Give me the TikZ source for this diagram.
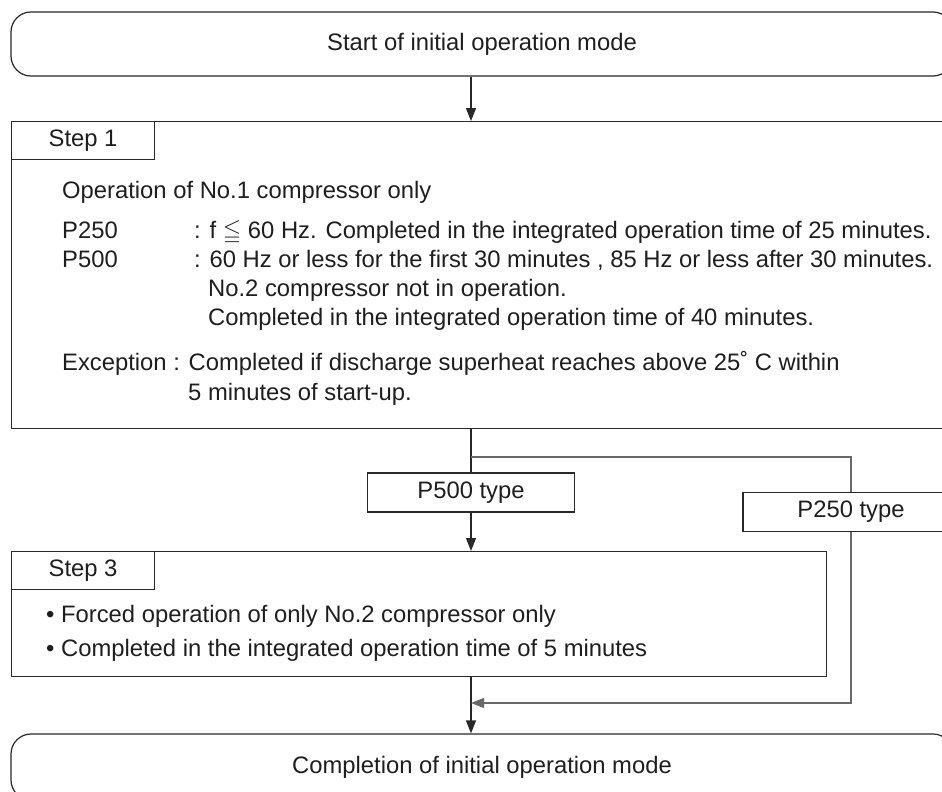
\documentclass[tikz,border=0pt]{standalone}
\usepackage{amssymb}
\usepackage{fontspec}
\setmainfont{Liberation Sans}
\usetikzlibrary{positioning, arrows.meta}
\definecolor{lineink}{RGB}{40,40,40}
\definecolor{branchgray}{RGB}{105,105,105}
\definecolor{textink}{RGB}{30,30,30}

\begin{document}
\begin{tikzpicture}[x=1pt, y=-1pt,
    every node/.style={font=\fontsize{23.8}{28}\selectfont, text=textink},
    term/.style={draw=lineink, line width=1.2pt, rounded corners=20pt,
                minimum width=942pt, minimum height=64pt, inner sep=0pt},
    stepbox/.style={draw=lineink, line width=1.2pt, anchor=north west, inner sep=0pt},
    tab/.style={draw=lineink, line width=1.2pt, anchor=north west,
                minimum width=143pt, minimum height=38pt, inner sep=0pt},
    typebox/.style={draw=lineink, line width=1.2pt, minimum height=39pt, inner sep=0pt},
    txt/.style={anchor=base west, inner sep=0pt},
    arr/.style={-{Triangle[length=13pt, width=10pt]}, line width=1.3pt, color=lineink},
    lin/.style={line width=1.3pt, color=lineink},
    branch/.style={line width=1.2pt, color=branchgray}]

  \useasboundingbox (0,0) rectangle (942,792);

  \node[term] (start) at (482,44) {Start of initial operation mode};

  \node[stepbox, minimum width=949pt, minimum height=307pt] (step1) at (11,121) {};
  \node[tab] (step1tab) at (step1.north west) {Step 1};
  \node[txt] (op) at (62,198) {Operation of No.1 compressor only};
  \node[txt] (p250) at (62,238) {P250};
  \node[txt] (p250c) at (194,238) {: f $\leqq$ 60 Hz. Completed in the integrated operation time of 25 minutes.};
  \node[txt] (p500) at (62,267) {P500};
  \node[txt] (p500c) at (194,267) {: 60 Hz or less for the first 30 minutes , 85 Hz or less after 30 minutes.};
  \node[txt] (p500d) at (208,296) {No.2 compressor not in operation.};
  \node[txt] (p500e) at (208,325) {Completed in the integrated operation time of 40 minutes.};
  \node[txt] (exc) at (62,370) {Exception : Completed if discharge superheat reaches above 25˚ C within};
  \node[txt] (exc2) at (188,400) {5 minutes of start-up.};

  \coordinate (split) at (471,457);
  \node[typebox, minimum width=207pt] (p500t) at (471,492.5) {P500 type};
  \node[typebox, minimum width=216pt] (p250t) at (851,512) {P250 type};

  \node[stepbox, minimum width=815pt, minimum height=125pt] (step3) at (11,551) {};
  \node[tab] (step3tab) at (step3.north west) {Step 3};
  \node[txt] (b1) at (46,622) {• Forced operation of only No.2 compressor only};
  \node[txt] (b2) at (46,656) {• Completed in the integrated operation time of 5 minutes};

  \coordinate (merge) at (471,703);
  \node[term, minimum height=66pt] (finish) at (482,767) {Completion of initial operation mode};

  \draw[arr] (start.south -| split) -- (step1.north -| split);
  \draw[lin] (step1.south -| split) -- (p500t.north);
  \draw[branch] (split) -| (p250t.north);
  \draw[arr] (p500t) -- (step3.north -| p500t);
  \draw[arr] (step3.south -| split) -- (finish.north -| split);
  \draw[branch, -{Triangle[length=13pt, width=10pt]}] (p250t.south) |- (merge);
\end{tikzpicture}
\end{document}
